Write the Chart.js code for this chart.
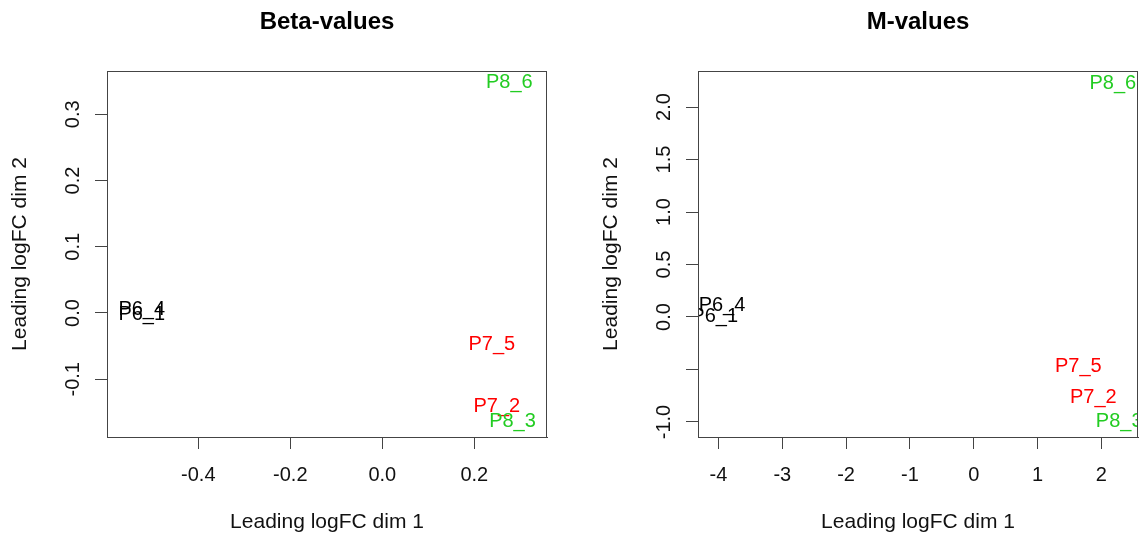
<!DOCTYPE html>
<html>
<head>
<meta charset="utf-8">
<script src="https://cdn.jsdelivr.net/npm/chart.js@4/dist/chart.umd.min.js"></script>
<style>
  html, body { margin: 0; padding: 0; background: #fff; }
  #wrap { position: relative; width: 1141px; height: 538px; }
  canvas { position: absolute; top: 0; }
  #betaChart { left: 0; }
  #mChart { left: 591px; }
</style>
</head>
<body>
<div id="wrap">
  <canvas id="betaChart" width="570" height="538"></canvas>
  <canvas id="mChart" width="550" height="538"></canvas>
</div>
<script>
// samples and their groups
const sampleNames = ['P6_1', 'P6_4', 'P7_2', 'P7_5', 'P8_3', 'P8_6'];
const sampleGroups = ['P6', 'P6', 'P7', 'P7', 'P8', 'P8'];

// MDS coordinates
const betaDim1 = [-0.523, -0.523, 0.249, 0.238, 0.283, 0.276];
const betaDim2 = [-0.002, 0.006, -0.141, -0.047, -0.164, 0.348];
const mDim1 = [-4.06, -3.945, 1.875, 1.64, 2.28, 2.18];
const mDim2 = [0.003, 0.105, -0.765, -0.473, -0.997, 2.226];

// axis ticks
const betaXTicks = [-0.4, -0.2, 0, 0.2];
const betaXLabels = ['-0.4', '-0.2', '0.0', '0.2'];
const betaYTicks = [-0.1, 0, 0.1, 0.2, 0.3];
const betaYLabels = ['-0.1', '0.0', '0.1', '0.2', '0.3'];
const mXTicks = [-4, -3, -2, -1, 0, 1, 2];
const mXLabels = ['-4', '-3', '-2', '-1', '0', '1', '2'];
const mYTicks = [-1, -0.5, 0, 0.5, 1, 1.5, 2];
const mYLabels = ['-1.0', '', '0.0', '0.5', '1.0', '1.5', '2.0'];

const groupColors = { P6: '#000000', P7: '#ff0000', P8: '#22cc22' };
const FONT = '"Liberation Sans", Arial, sans-serif';

// draws sample names at the points, clipped to the plot box like R's text()
const textLabels = {
    id: 'textLabels',
    afterDatasetsDraw(chart) {
        const ctx = chart.ctx;
        const area = chart.chartArea;
        const meta = chart.getDatasetMeta(0);
        ctx.save();
        ctx.beginPath();
        ctx.rect(area.left, area.top, area.right - area.left, area.bottom - area.top);
        ctx.clip();
        ctx.font = '20px ' + FONT;
        ctx.textAlign = 'center';
        ctx.textBaseline = 'middle';
        meta.data.forEach(function(pt, i) {
            ctx.fillStyle = groupColors[sampleGroups[i]];
            ctx.fillText(sampleNames[i], pt.x, pt.y);
        });
        ctx.restore();
    }
};

// box round the plot and y tick labels written along the axis
const rFrame = {
    id: 'rFrame',
    afterDraw(chart) {
        const ctx = chart.ctx;
        const a = chart.chartArea;
        const y = chart.scales.y;
        ctx.save();
        ctx.strokeStyle = '#444';
        ctx.lineWidth = 1;
        ctx.strokeRect(Math.round(a.left) + 0.5, Math.round(a.top) + 0.5,
            Math.round(a.right - a.left) - 1, Math.round(a.bottom - a.top));
        ctx.font = '20px ' + FONT;
        ctx.fillStyle = '#111';
        ctx.textAlign = 'center';
        ctx.textBaseline = 'alphabetic';
        const labels = chart.options.yTickText;
        y.ticks.forEach(function(t, i) {
            const py = y.getPixelForValue(t.value);
            ctx.save();
            ctx.translate(a.left - 28, py);
            ctx.rotate(-Math.PI / 2);
            ctx.fillText(labels[i], 0, 0);
            ctx.restore();
        });
        ctx.restore();
    }
};

function makeChart(id, title, xs, ys, xRange, yRange, xTicks, xLabels, yTicks, yLabels, padRight) {
    const ctx = document.getElementById(id).getContext('2d');
    return new Chart(ctx, {
        type: 'scatter',
        data: {
            datasets: [{
                data: xs.map(function(x, i) { return { x: x, y: ys[i] }; }),
                pointRadius: 0,
                pointHoverRadius: 0
            }]
        },
        options: {
            responsive: false,
            animation: false,
            events: [],
            yTickText: yLabels,
            layout: { padding: { left: 0, right: padRight, top: 0, bottom: 0 } },
            plugins: {
                legend: { display: false },
                tooltip: { enabled: false },
                title: {
                    display: true,
                    fullSize: false,
                    text: title,
                    color: '#000',
                    font: { family: FONT, size: 24, weight: 'bold' },
                    padding: { top: 8, bottom: 34.2 }
                }
            },
            scales: {
                x: {
                    type: 'linear',
                    min: xRange[0],
                    max: xRange[1],
                    afterBuildTicks: function(s) { s.ticks = xTicks.map(function(v) { return { value: v }; }); },
                    afterFit: function(s) { s.height = 101; },
                    grid: { drawOnChartArea: false, tickLength: 12, color: '#444' },
                    border: { color: '#444' },
                    ticks: {
                        autoSkip: false,
                        maxRotation: 0,
                        padding: 14,
                        color: '#111',
                        font: { family: FONT, size: 20 },
                        callback: function(v, i) { return xLabels[i]; }
                    },
                    title: {
                        display: true,
                        text: 'Leading logFC dim 1',
                        color: '#111',
                        font: { family: FONT, size: 21 },
                        padding: { top: 0, bottom: 3 }
                    }
                },
                y: {
                    type: 'linear',
                    min: yRange[0],
                    max: yRange[1],
                    afterBuildTicks: function(s) { s.ticks = yTicks.map(function(v) { return { value: v }; }); },
                    afterFit: function(s) { s.width = 107; },
                    grid: { drawOnChartArea: false, tickLength: 12, color: '#444' },
                    border: { color: '#444' },
                    ticks: {
                        autoSkip: false,
                        color: 'rgba(0,0,0,0)',
                        font: { family: FONT, size: 20 },
                        callback: function(v, i) { return yLabels[i]; }
                    },
                    title: {
                        display: true,
                        text: 'Leading logFC dim 2',
                        color: '#111',
                        font: { family: FONT, size: 21 },
                        padding: { top: 8, bottom: 0 }
                    }
                }
            }
        },
        plugins: [textLabels, rFrame]
    });
}

document.addEventListener('DOMContentLoaded', function() {
    makeChart('betaChart', 'Beta-values', betaDim1, betaDim2,
        [-0.5985, 0.358], [-0.1872, 0.3653],
        betaXTicks, betaXLabels, betaYTicks, betaYLabels, 23);
    makeChart('mChart', 'M-values', mDim1, mDim2,
        [-4.321, 2.575], [-1.143, 2.343],
        mXTicks, mXLabels, mYTicks, mYLabels, 3);
});
</script>
</body>
</html>
